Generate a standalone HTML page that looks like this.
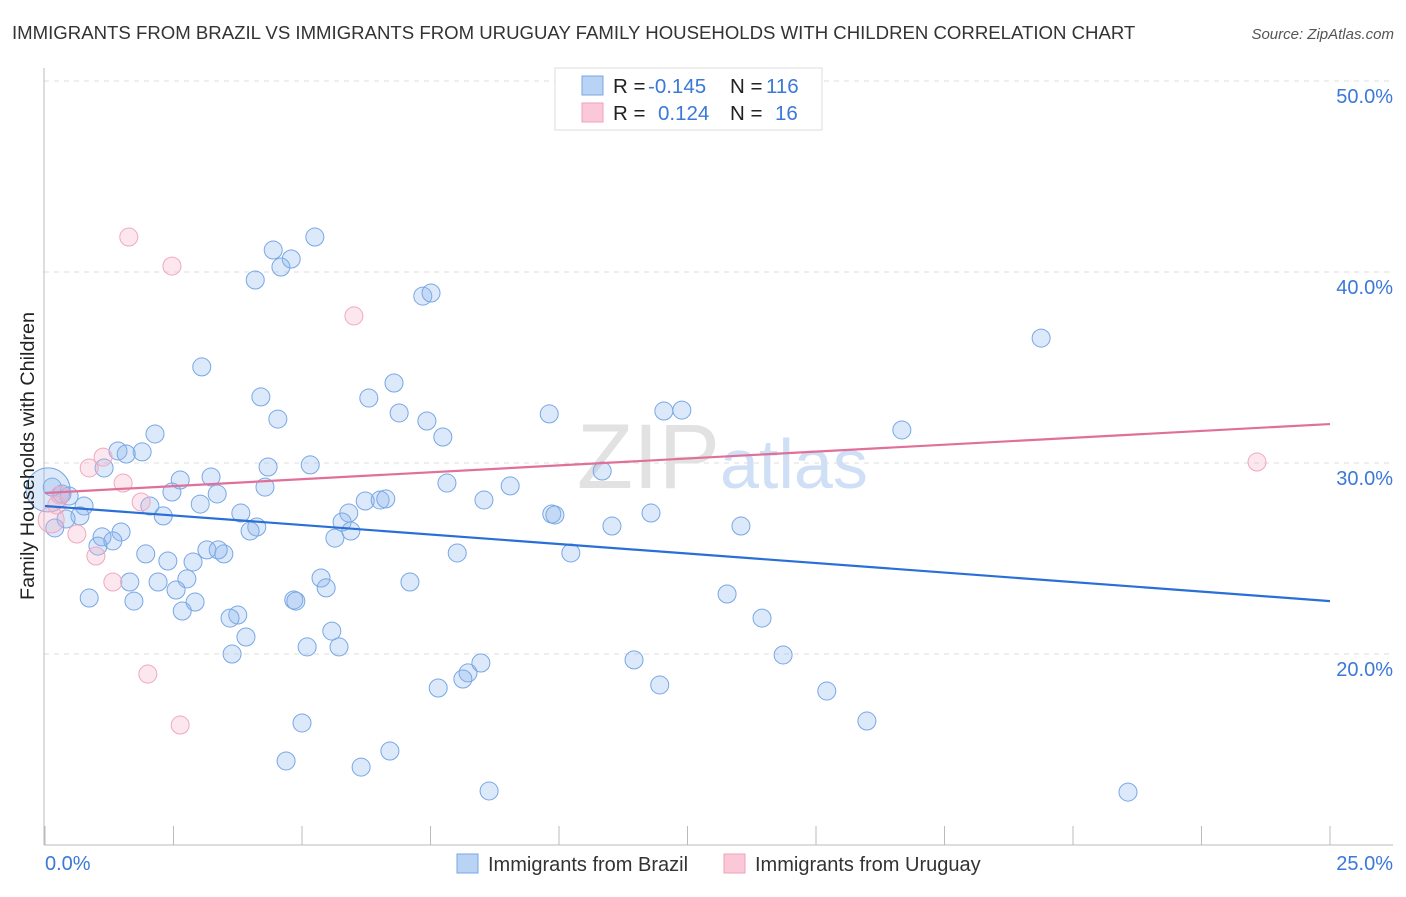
<!DOCTYPE html>
<html><head><meta charset="utf-8"><style>
body{margin:0;background:#fff;font-family:"Liberation Sans",sans-serif}
svg text{font-family:"Liberation Sans",sans-serif}
</style></head><body>
<svg id="c" width="1406" height="892" viewBox="0 0 1406 892">
<text x="12" y="39" font-size="18.6" fill="#333">IMMIGRANTS FROM BRAZIL VS IMMIGRANTS FROM URUGUAY FAMILY HOUSEHOLDS WITH CHILDREN CORRELATION CHART</text>
<text x="1394" y="39" font-size="15" fill="#555" font-style="italic" text-anchor="end">Source: ZipAtlas.com</text>
<text x="720" y="488" font-size="92" fill="#ccc" opacity="0.55" text-anchor="end" font-family="Liberation Serif">ZIP</text>
<text x="720" y="488" font-size="70" fill="#a9c6ee" opacity="0.55">atlas</text>
<g id="grid"></g>
<g id="axes"></g>
<g id="pts"></g>
<g id="lines"></g>
<text transform="translate(34,456) rotate(-90)" font-size="19.8" fill="#222" text-anchor="middle">Family Households with Children</text>
<text x="45" y="870" font-size="20" fill="#3b78d8">0.0%</text>
<text x="1393" y="870" font-size="20" fill="#3b78d8" text-anchor="end">25.0%</text>
<g>
<rect x="555" y="68" width="267" height="62" fill="#fff" stroke="#ddd"/>
<rect x="582" y="76" width="21" height="19" fill="#b9d3f5" stroke="#7aa6e4"/>
<rect x="582" y="103" width="21" height="19" fill="#fbc8d8" stroke="#f0a0bb"/>
<text x="613" y="93" font-size="20.5" fill="#222">R = </text><text x="648" y="93" font-size="20.5" fill="#3b78d8">-0.145</text>
<text x="730" y="93" font-size="20.5" fill="#222">N = </text><text x="766" y="93" font-size="20.5" fill="#3b78d8">116</text>
<text x="613" y="120" font-size="20.5" fill="#222">R = </text><text x="658" y="120" font-size="20.5" fill="#3b78d8">0.124</text>
<text x="730" y="120" font-size="20.5" fill="#222">N = </text><text x="775" y="120" font-size="20.5" fill="#3b78d8">16</text>
</g>
<g>
<rect x="457" y="854" width="21" height="19" fill="#b9d3f5" stroke="#7aa6e4"/>
<text x="488" y="871" font-size="20" fill="#333">Immigrants from Brazil</text>
<rect x="724" y="854" width="21" height="19" fill="#fbc8d8" stroke="#f0a0bb"/>
<text x="755" y="871" font-size="20" fill="#333">Immigrants from Uruguay</text>
</g>
</svg>
<script>
const yTicks=[20,30,40,50];
const yTickLabels=["20.0%","30.0%","40.0%","50.0%"];
const xTicks=[0,2.5,5,7.5,10,12.5,15,17.5,20,22.5,25];
const brazilX=[5.25,4.44,4.79,4.59,4.09,7.35,7.51,3.05,6.79,4.20,6.30,6.89,4.53,7.43,9.81,12.04,12.39,2.14,7.74,16.67,19.38,1.42,1.89,1.58,1.15,5.16,4.34,3.23,2.63,10.84,7.82,9.05,4.28,2.47,3.35,0.33,0.47,8.54,6.23,6.52,6.63,3.02,0.76,2.04,2.30,5.91,3.81,0.68,0.41,9.86,9.92,11.79,5.78,4.12,3.99,5.95,11.03,13.54,1.48,1.11,1.32,5.64,1.03,3.15,3.48,3.37,1.96,8.02,10.23,2.39,2.88,5.37,1.65,2.20,7.10,2.76,5.47,2.55,0.86,1.73,2.92,4.84,4.88,13.27,2.67,3.75,3.60,13.95,5.58,3.91,5.10,5.72,3.64,14.36,8.48,11.46,8.23,8.13,7.65,11.96,15.21,5.00,15.99,6.71,4.69,6.15,8.64,21.07,0.14,0.19,0.06];
const brazilY=[41.83,41.15,40.68,40.26,39.58,38.74,38.9,35.03,34.19,33.46,33.4,32.62,32.3,32.2,32.57,32.72,32.77,31.52,31.36,31.73,36.54,30.63,30.58,30.47,29.74,29.9,29.79,29.27,29.11,29.58,28.95,28.8,28.74,28.48,28.38,28.38,28.27,28.06,28.01,28.06,28.12,27.85,27.75,27.75,27.23,27.38,27.38,27.23,27.07,27.33,27.28,27.38,26.91,26.65,26.44,26.44,26.7,26.7,26.39,26.13,25.92,26.07,25.65,25.45,25.24,25.45,25.24,25.29,25.29,24.87,24.82,23.98,23.77,23.77,23.77,23.93,23.46,23.35,22.93,22.77,22.72,22.83,22.77,23.14,22.25,22.04,21.88,21.88,21.2,20.89,20.37,20.37,20.0,19.95,19.53,19.69,19.01,18.69,18.22,18.38,18.06,16.39,16.49,14.92,14.4,14.08,12.83,12.77,28.74,26.6,28.59];
const brazilSize=brazilX.map((v,i)=>i===brazilX.length-1?22:9);
const uruguayX=[1.63,2.47,6.01,23.58,1.13,0.86,1.52,1.87,0.23,0.62,0.99,1.32,2.00,2.63,0.12,0.29];
const uruguayY=[41.83,40.31,37.7,30.05,30.31,29.74,28.95,27.96,27.8,26.28,25.13,23.77,18.95,16.28,27.02,28.32];
const brazilTrend=[27.75,22.77];
const uruguayTrend=[28.43,32.04];
const NS="http://www.w3.org/2000/svg";
const X=v=>45+v/25*1285, Y=v=>654-(v-20)*19.1;
function mk(t,a,p){const e=document.createElementNS(NS,t);for(const k in a)e.setAttribute(k,a[k]);p.appendChild(e);return e;}
const grid=document.getElementById('grid'),axes=document.getElementById('axes'),pts=document.getElementById('pts'),lines=document.getElementById('lines');
yTicks.forEach((t,i)=>{
 const l=mk('line',{x1:44,x2:1393,y1:Y(t),y2:Y(t),stroke:'#ddd','stroke-dasharray':'5,5'},grid);
 
 
 const tx=mk('text',{x:1393,y:Y(t)+22,'font-size':20,fill:'#3b78d8','text-anchor':'end'},grid);
 tx.textContent=yTickLabels[i];
 
 
});
let a=mk('line',{x1:44,x2:44,y1:68,y2:845,stroke:'#bbb'},axes);


a=mk('line',{x1:44,x2:1393,y1:845,y2:845,stroke:'#bbb'},axes);


xTicks.forEach(t=>{
 const l=mk('line',{x1:X(t),x2:X(t),y1:826,y2:845,stroke:'#bbb'},axes);
 
 
});
brazilX.forEach((x,i)=>{
 const c=mk('circle',{cx:X(x),cy:Y(brazilY[i]),r:brazilSize[i],fill:'rgba(140,182,238,0.3)',stroke:'#78a7e4','stroke-width':1},pts);
 
 
});
uruguayX.forEach((x,i)=>{
 const c=mk('circle',{cx:X(x),cy:Y(uruguayY[i]),r:i===14?13:9,fill:'rgba(245,175,198,0.3)',stroke:'#f0a8c0','stroke-width':1},pts);
 
 
});
let tl=mk('line',{x1:X(0),x2:X(25),y1:Y(brazilTrend[0]),y2:Y(brazilTrend[1]),stroke:'#2a6fd6','stroke-width':2.2},lines);


tl=mk('line',{x1:X(0),x2:X(25),y1:Y(uruguayTrend[0]),y2:Y(uruguayTrend[1]),stroke:'#e0709a','stroke-width':2.2},lines);


</script>
</body></html>
